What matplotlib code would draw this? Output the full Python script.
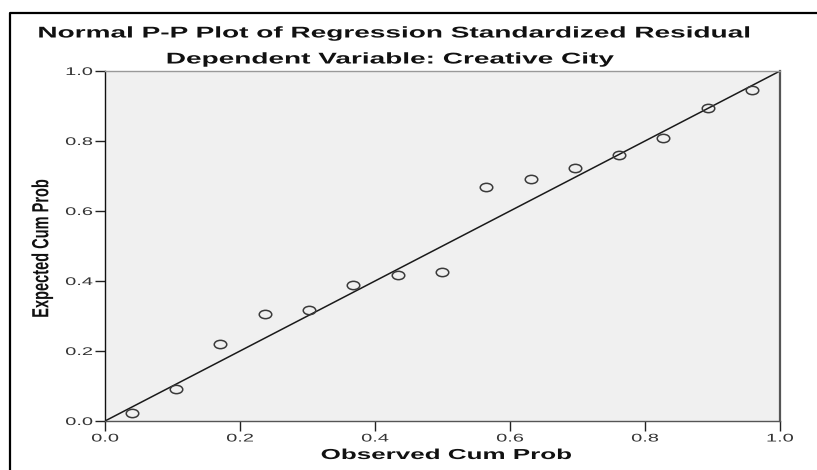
import numpy as np
import matplotlib
matplotlib.use("Agg")
import matplotlib.pyplot as plt
from matplotlib.lines import Line2D
from matplotlib.path import Path
from matplotlib.transforms import Affine2D
from matplotlib.patheffects import AbstractPathEffect

# =========================
# Data
# =========================
observed = [0.040, 0.105, 0.171, 0.237, 0.302, 0.368, 0.434, 0.499,
            0.564, 0.631, 0.696, 0.761, 0.827, 0.893, 0.958]
expected = [0.024, 0.091, 0.221, 0.307, 0.318, 0.390, 0.416, 0.425,
            0.669, 0.691, 0.723, 0.759, 0.810, 0.894, 0.946]
ref_line = [0.0, 1.0]
ticks = [0.0, 0.2, 0.4, 0.6, 0.8, 1.0]
tick_labels = ["0.0", "0.2", "0.4", "0.6", "0.8", "1.0"]

title = "Normal P-P Plot of Regression Standardized Residual"
subtitle = "Dependent Variable: Creative City"
xlabel = "Observed Cum Prob"
ylabel = "Expected Cum Prob"

W, H = 817, 470
SX = 1.8  # the reference image is stretched sideways


class HStretch(AbstractPathEffect):
    """Stretch text glyphs horizontally around an anchor."""
    def __init__(self, sx, anchor="center"):
        super().__init__()
        self.sx = sx
        self.anchor = anchor

    def draw_path(self, renderer, gc, tpath, affine, rgbFace=None):
        ext = tpath.get_extents(affine)
        if self.anchor == "right":
            cx = ext.x1
        elif self.anchor == "left":
            cx = ext.x0
        else:
            cx = (ext.x0 + ext.x1) / 2
        t = affine + Affine2D().translate(-cx, 0).scale(self.sx, 1).translate(cx, 0)
        renderer.draw_path(gc, tpath, t, rgbFace)


fig = plt.figure(figsize=(W / 100, H / 100), dpi=100)
fig.patch.set_facecolor("white")

# axes box: x 105..780 px, y 71..421 px
ax = fig.add_axes([105 / W, (H - 421) / H, 675 / W, 350 / H])
ax.set_facecolor("#f0f0f0")

# elliptical open marker
ellipse = Path.unit_circle().transformed(Affine2D().scale(1.5, 1.0))

ax.plot(ref_line, ref_line, color="#1a1a1a", lw=1.1, zorder=2)
ax.plot(observed, expected, linestyle="none", marker=ellipse, markersize=9,
        markerfacecolor="none", markeredgecolor="#3a3a3a", markeredgewidth=1.1, zorder=3)

ax.set_xlim(0, 1)
ax.set_ylim(0, 1)
ax.set_xticks(ticks)
ax.set_yticks(ticks)
ax.set_xticklabels(tick_labels)
ax.set_yticklabels(tick_labels)
ax.tick_params(axis="both", direction="out", length=7, width=1, color="#222222",
               labelsize=8, labelcolor="#333333", pad=2)

ax.spines["left"].set_color("#111111")
ax.spines["bottom"].set_color("#555555")
ax.spines["top"].set_color("#999999")
ax.spines["right"].set_color("#555555")
for s in ["left", "bottom", "top"]:
    ax.spines[s].set_linewidth(1.0)
ax.spines["right"].set_linewidth(1.6)

for lbl in ax.get_xticklabels():
    lbl.set_family("Liberation Sans")
    lbl.set_path_effects([HStretch(SX, "center")])
for lbl in ax.get_yticklabels():
    lbl.set_family("Liberation Sans")
    lbl.set_path_effects([HStretch(SX, "right")])

# titles
fig.text(393.5 / W, 1 - 33 / H, title, ha="center", va="center", fontsize=11.2,
         fontweight="bold", family="Liberation Sans", color="#111111",
         path_effects=[HStretch(SX)])
fig.text(390 / W, 1 - 59 / H, subtitle, ha="center", va="center", fontsize=11.2,
         fontweight="bold", family="Liberation Sans", color="#111111",
         path_effects=[HStretch(SX)])

# axis labels
fig.text(446 / W, 1 - 455 / H, xlabel, ha="center", va="center", fontsize=10.4,
         fontweight="bold", family="Liberation Sans", color="#111111",
         path_effects=[HStretch(SX)])
fig.text(42 / W, 1 - 248 / H, ylabel, ha="center", va="center", rotation=90,
         fontsize=10.5, fontweight="bold", family="Liberation Sans", color="#111111",
         path_effects=[HStretch(1.6)])

# outer frame (left and top edges)
fig.add_artist(Line2D([10 / W, 10 / W, 1.0], [0.0, 1 - 13 / H, 1 - 13 / H],
                      transform=fig.transFigure, color="black", lw=1.6))

fig.savefig("out.png", dpi=100)
